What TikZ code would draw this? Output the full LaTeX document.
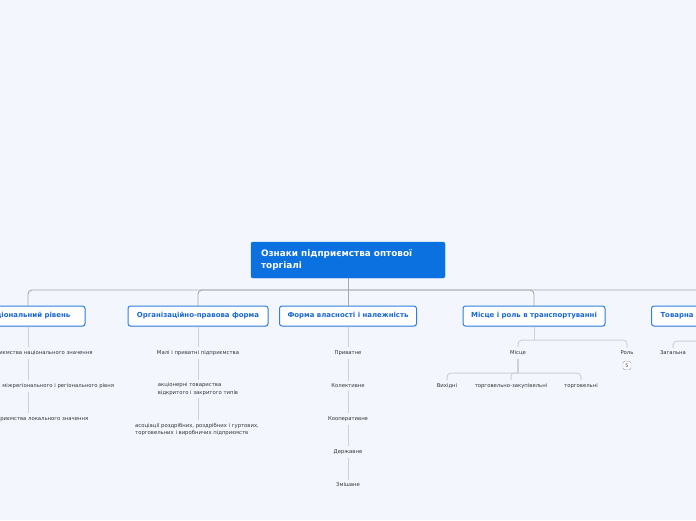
\documentclass[tikz,border=0pt]{standalone}
\usepackage{fontspec}
\setmainfont{DejaVu Sans}
\usetikzlibrary{shadows}
\definecolor{bgc}{HTML}{F3F6FD}
\definecolor{rootblue}{HTML}{0B70E0}
\definecolor{lvlborder}{HTML}{2F80E0}
\definecolor{lvltext}{HTML}{1767D2}
\definecolor{mainline}{HTML}{A8A8AC}
\definecolor{subline}{HTML}{CDD0D8}
\definecolor{leaftext}{HTML}{333333}
\tikzset{
  rootbox/.style={fill=rootblue, draw=rootblue, rounded corners=2pt, text=white,
    font=\fontsize{8.9}{11.5}\selectfont\bfseries, align=left, text width=174pt,
    inner xsep=10pt, minimum height=36pt},
  lvlbox/.style={fill=white, draw=lvlborder, line width=1pt, rounded corners=2.5pt,
    text=lvltext, font=\fontsize{6.95}{8}\selectfont\bfseries, minimum height=20pt,
    inner xsep=4pt, drop shadow={opacity=0.18, shadow xshift=0.6pt, shadow yshift=-1.2pt}},
  leaf/.style={text=leaftext, font=\fontsize{5.3}{7.2}\selectfont, inner sep=3pt, align=left},
  mline/.style={draw=mainline, line width=0.9pt},
  sline/.style={draw=subline, line width=1pt},
  badge/.style={draw=gray!70, fill=white, rounded corners=1.5pt, text=leaftext,
    font=\fontsize{4.8}{5}\selectfont, minimum width=8pt, minimum height=8.5pt, inner sep=0.5pt}
}
\begin{document}
\begin{tikzpicture}[x=1pt,y=-1pt]
\fill[bgc] (0,0) rectangle (696,520);
\useasboundingbox (0,0) rectangle (696,520);
\clip (0,0) rectangle (696,520);

% root
\node[rootbox] (root) at (348,260) {Ознаки підприємства оптової\\торгіалі};
\coordinate (j) at (348,290);

% level 1
\node[lvlbox, minimum width=114pt] (b1) at (28,316) {Національний рівень};
\node[lvlbox, minimum width=140pt] (b2) at (198,316) {Організаційно-правова форма};
\node[lvlbox, minimum width=137pt] (b3) at (348,316) {Форма власності і належність};
\node[lvlbox, minimum width=142pt] (b4) at (534,316) {Місце і роль в транспортуванні};
\node[lvlbox, anchor=west, inner xsep=9pt] (b5) at (651,316) {Товарна спеціалізація};

\draw[mline] (root.south) -- (j);
\draw[mline, rounded corners=4pt] (j) -| (b1.north);
\draw[mline, rounded corners=4pt] (j) -| (b2.north);
\draw[mline] (j) -- (b3.north);
\draw[mline, rounded corners=4pt] (j) -| (b4.north);
\draw[mline, rounded corners=4pt] (j) -| (b5.north);

% column 1
\node[leaf] (c11) at (38,353) {Підприємства національного значення};
\node[leaf] (c12) at (38,386) {Підприємства міжрегіонального і регіонального рівня};
\node[leaf] (c13) at (38,419) {Підприємства локального значення};
\draw[sline] (b1.south) -- (b1.south |- c11.north);
\draw[sline] (b1.south |- c11.south) -- (b1.south |- c12.north);
\draw[sline] (b1.south |- c12.south) -- (b1.south |- c13.north);

% column 2
\node[leaf] (c21) at (198,353) {Малі і приватні підприємства};
\node[leaf] (c22) at (198,389) {акціонерні товариства\\відкритого і закритого типів};
\node[leaf] (c23) at (197,429.5) {асоціації роздрібних, роздрібних і гуртових,\\торговельних і виробничих підприємств};
\draw[sline] (b2.south) -- (c21.north);
\draw[sline] (c21.south) -- (c21.south |- c22.north);
\draw[sline] (c22.south -| c21.south) -- (c21.south |- c23.north);

% column 3
\node[leaf] (c31) at (348,353) {Приватне};
\node[leaf] (c32) at (348,386) {Колективне};
\node[leaf] (c33) at (348,419) {Кооперативне};
\node[leaf] (c34) at (348,452) {Державне};
\node[leaf] (c35) at (348,485) {Змішане};
\draw[sline] (b3.south) -- (c31.north);
\draw[sline] (c31.south) -- (c32.north);
\draw[sline] (c32.south) -- (c33.north);
\draw[sline] (c33.south) -- (c34.north);
\draw[sline] (c34.south) -- (c35.north);

% column 4
\coordinate (k4) at (534,340);
\node[leaf] (m) at (518,353) {Місце};
\node[leaf] (r) at (627,353) {Роль};
\node[badge] (rb) at (627,365.5) {5};
\draw[sline] (b4.south) -- (k4);
\draw[sline, rounded corners=4pt] (k4) -| (m.north);
\draw[sline, rounded corners=4pt] (k4) -| (r.north);
\coordinate (k41) at (518,373);
\node[leaf] (v1) at (447,386) {Вихідні};
\node[leaf] (v2) at (511,386) {торговельно-закупівельні};
\node[leaf] (v3) at (581,386) {торговельні};
\draw[sline, line width=2pt] (m.south) -- (k41);
\draw[sline, rounded corners=4pt] (k41) -| (v1.north);
\draw[sline, rounded corners=3pt] (k41) -| (v2.north);
\draw[sline, rounded corners=4pt] (k41) -| (v3.north);

% column 5
\coordinate (k5) at (b5.south |- 0,341);
\node[leaf] (z) at (673,353) {Загальна};
\draw[sline] (b5.south) -- (k5);
\draw[sline, rounded corners=4pt] (k5) -| (z.north);
\end{tikzpicture}
\end{document}
